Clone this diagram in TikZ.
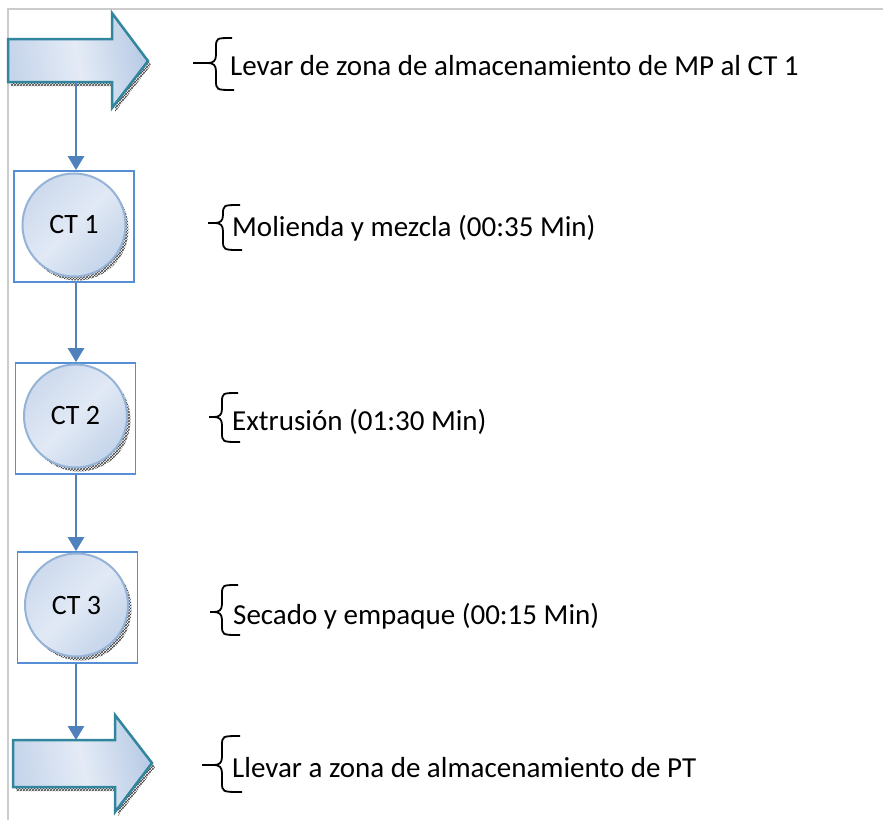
\documentclass[tikz,border=0pt]{standalone}
\usepackage{fontspec}
\setmainfont{Carlito}
\usetikzlibrary{arrows.meta,patterns}
\definecolor{frameg}{HTML}{CCCCCC}
\definecolor{conn}{HTML}{4F81BD}
\definecolor{boxb}{HTML}{558ED5}
\definecolor{arrowedge}{HTML}{31859C}
\definecolor{circedge}{HTML}{95B3D7}
\definecolor{fillA}{HTML}{C6D5EB}
\definecolor{fillB}{HTML}{E4EBF6}
\definecolor{fillC}{HTML}{B8CBE5}
\definecolor{circA}{HTML}{CDDAED}
\definecolor{circB}{HTML}{E1E9F5}
\definecolor{circC}{HTML}{C4D4EA}
\tikzset{
  framel/.style={draw=frameg,line width=2pt},
  conline/.style={draw=conn,line width=2.8pt,-{Triangle[width=16pt,length=14pt]}},
  ctbox/.style={draw=boxb,line width=1.8pt,rectangle,minimum width=120pt,minimum height=111pt,inner sep=0pt},
  ctcirc/.style={circle,draw=circedge,line width=2pt,minimum size=103pt,inner sep=0pt,
     left color=circA,right color=circC,middle color=circB,shading angle=45,
     font=\fontsize{28}{30}\selectfont},
  shadowpat/.style={pattern=crosshatch,pattern color=black!75},
  bigarrow/.style={draw=arrowedge,line width=2.5pt,line join=miter,
     left color=fillA,right color=fillC,middle color=fillB,shading angle=100},
  bracel/.style={draw=black,line width=1.8pt},
  sidetext/.style={anchor=base west,inner sep=0pt,font=\fontsize{29}{33}\selectfont}
}
\newcommand{\obrace}[6]{% xtip, xv, ytop, ymid, ybot, xend
  \draw[bracel] (#6,#3) .. controls (#2,#3) and (#2,#3) .. (#2,#3+10) -- (#2,#4-8)
     .. controls (#2,#4-2) and (#2-3,#4) .. (#2-8,#4) -- (#1,#4);
  \draw[bracel] (#6+2,#5) .. controls (#2,#5) and (#2,#5) .. (#2,#5-10) -- (#2,#4+8)
     .. controls (#2,#4+2) and (#2-3,#4) .. (#2-8,#4);
}
\begin{document}
\begin{tikzpicture}[x=1pt,y=-1pt]
\useasboundingbox (0,0) rectangle (883,820);
\fill[white] (0,0) rectangle (883,820);
% frame
\draw[framel] (8,820) -- (8,9) -- (883,9);

% top arrow
\fill[shadowpat] (11,43) -- (115,43) -- (115,17) -- (151,65) -- (115,112) -- (115,86) -- (11,86) -- cycle;
\path[bigarrow] (8,39) -- (112,39) -- (112,13) -- (148,61) -- (112,108) -- (112,82) -- (8,82) -- cycle;
\coordinate (a1) at (76,82);

% bottom arrow
\fill[shadowpat] (16,744) -- (118,744) -- (118,719) -- (155,767) -- (118,816) -- (118,791) -- (16,791) -- cycle;
\path[bigarrow] (13,740) -- (115,740) -- (115,715) -- (152,763) -- (115,812) -- (115,787) -- (13,787) -- cycle;
\coordinate (a2) at (76,740);

% CT boxes
\node[ctbox] (ct1) at (74,226.5) {};
\node[ctbox] (ct2) at (75.5,418.5) {};
\node[ctbox] (ct3) at (77.5,607.5) {};

% circles with shadow
\fill[shadowpat] (77,229) circle (51.5);
\node[ctcirc] (c1) at (74,225) {\raisebox{-3pt}{CT 1}};
\fill[shadowpat] (79,420) circle (51.5);
\node[ctcirc] (c2) at (75.5,416) {\raisebox{-3pt}{CT 2}};
\fill[shadowpat] (80,609) circle (51.5);
\node[ctcirc] (c3) at (76.5,605) {\raisebox{-3pt}{CT 3}};

% connectors
\draw[conline] (a1) -- (a1 |- ct1.north);
\draw[conline] (ct1.south -| a1) -- (ct2.north -| a1);
\draw[conline] (ct2.south -| a1) -- (ct3.north -| a1);
\draw[conline] (ct3.south -| a1) -- (a2);

% braces
\obrace{193}{216}{38}{63}{90}{232}
\obrace{208}{223}{205}{223}{250}{240}
\obrace{209}{222}{393}{417}{442}{238}
\obrace{210}{222}{585}{612}{635}{238}
\obrace{202}{222}{736}{765}{792}{240}

% texts
\node[sidetext] (t1) at (230,75) {Levar de zona de almacenamiento de MP al CT 1};
\node[sidetext] (t2) at (232,236) {Molienda y mezcla (00:35 Min)};
\node[sidetext] (t3) at (232,430) {Extrusión (01:30 Min)};
\node[sidetext] (t4) at (233,624) {Secado y empaque (00:15 Min)};
\node[sidetext] (t5) at (232,777) {Llevar a zona de almacenamiento de PT};
\end{tikzpicture}
\end{document}
